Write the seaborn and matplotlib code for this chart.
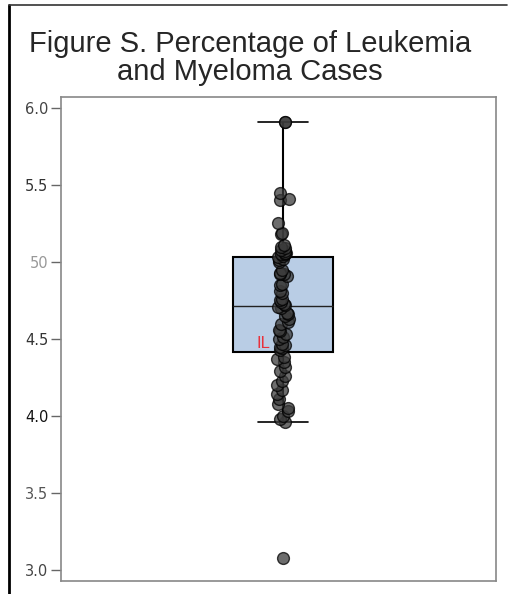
import numpy as np
import pandas as pd
import matplotlib
matplotlib.use("Agg")
import matplotlib.pyplot as plt
from matplotlib.lines import Line2D
import seaborn as sns

# percentage of leukemia and myeloma cases, one value per point
pct_cases = [3.08,
             3.96, 3.98, 4.00, 4.03, 4.05, 4.08, 4.11, 4.14, 4.17, 4.20, 4.23, 4.26, 4.29, 4.32, 4.35, 4.37, 4.38,
             4.43,
             4.44, 4.45, 4.46, 4.47, 4.50, 4.51, 4.53, 4.55, 4.56, 4.60, 4.61, 4.63, 4.65, 4.66, 4.67, 4.70, 4.71,
             4.72,
             4.73, 4.74, 4.75, 4.76, 4.80, 4.81, 4.85, 4.86, 4.91, 4.92, 4.92, 4.93, 4.95, 5.00, 5.01, 5.02, 5.03,
             5.04,
             5.05, 5.05, 5.06, 5.06, 5.07, 5.08, 5.09, 5.10, 5.11, 5.18, 5.19, 5.25, 5.40, 5.41, 5.45, 5.91, 5.91]
y_ticks = [3.0, 3.5, 4.0, 4.5, 5.0, 5.5, 6.0]
y_tick_labels = ["3.0", "3.5", "4.0", "4.5", "50", "5.5", "6.0"]
y_tick_colors = ["#444444", "#555555", "#111111", "#333333", "#999999", "#333333", "#444444"]

df = pd.DataFrame({"group": ["all"] * len(pct_cases), "pct": pct_cases})

sns.set_style("white")
plt.rcParams['font.family'] = ['DejaVu Sans']

fig = plt.figure(figsize=(5.15, 5.94), dpi=100)
ax = fig.add_axes([61/515, 1 - 581/594, (496-61)/515, (581-97)/594])

sns.boxplot(data=df, x="group", y="pct", ax=ax, width=0.23, showfliers=False,
            boxprops=dict(facecolor="#b9cde5", edgecolor="black", linewidth=1.5),
            whiskerprops=dict(color="black", linewidth=1.5),
            capprops=dict(color="black", linewidth=1.2),
            medianprops=dict(color="#222222", linewidth=1))

np.random.seed(3)
sns.stripplot(data=df, x="group", y="pct", ax=ax, jitter=0.014, size=8.5,
              color="#3c3c3c", alpha=0.75, edgecolor="black", linewidth=1)

ax.set_xlim(-0.51, 0.49)
ax.set_ylim(2.93, 6.07)
ax.set_xticks([])
ax.set_xlabel("")
ax.set_ylabel("")
ax.set_yticks(y_ticks)
ax.set_yticklabels(y_tick_labels, fontsize=10.5)
for lab, c in zip(ax.get_yticklabels(), y_tick_colors):
    lab.set_color(c)
ax.tick_params(axis="y", direction="out", length=7, width=1, color="#666666", pad=2, left=True)
for s in ax.spines.values():
    s.set_color("#888888")
    s.set_linewidth(1.2)

ax.text(-0.045, 4.47, "IL", color="#e8323c", fontsize=12, ha="center", va="center",
        family=["Liberation Sans"])

fig.text(0.485, 0.855, "Figure S. Percentage of Leukemia\nand Myeloma Cases",
         ha="center", va="bottom", fontsize=21, linespacing=1.0,
         family=["Liberation Sans"])

# figure frame (left and top edges only)
fig.add_artist(Line2D([9/515, 9/515], [0, 1 - 5/594], color="black", linewidth=2))
fig.add_artist(Line2D([9/515, 507/515], [1 - 5/594, 1 - 5/594], color="#333333", linewidth=1.2))

fig.savefig("out.png", dpi=100)
